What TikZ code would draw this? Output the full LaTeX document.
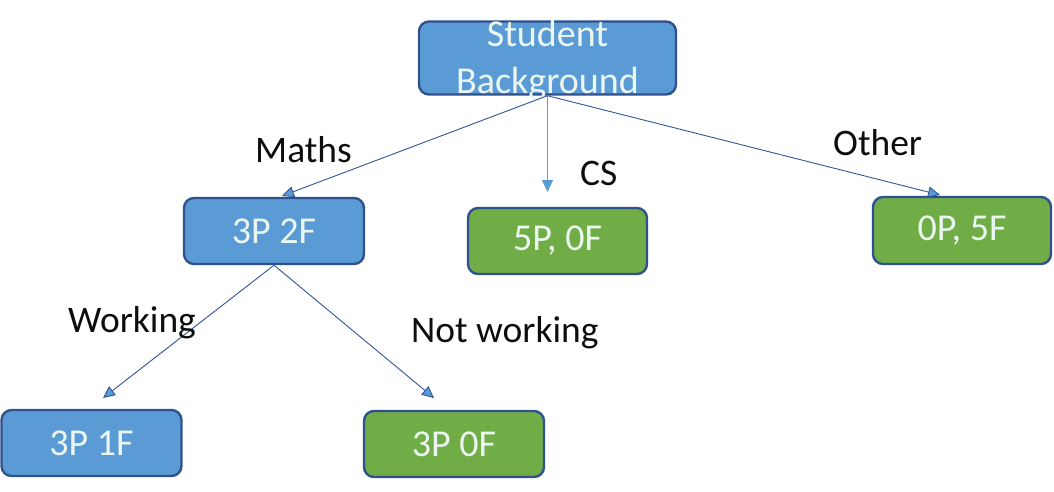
\documentclass[tikz,border=0pt]{standalone}
\usepackage{fontspec}
\setmainfont{Carlito}
\usetikzlibrary{arrows.meta}
\definecolor{boxblue}{HTML}{5B9BD5}
\definecolor{boxgreen}{HTML}{70AD47}
\definecolor{boxedge}{HTML}{2F528F}
\definecolor{boxtextc}{RGB}{236,246,240}
\definecolor{linkdark}{HTML}{2F5597}
\definecolor{labelc}{HTML}{0D0D0D}
\begin{document}
\begin{tikzpicture}[x=1pt,y=-1pt,
  box/.style={draw=boxedge, line width=2.4pt, rounded corners=10pt, inner sep=0pt,
    text=boxtextc, font=\fontsize{38}{42}\selectfont},
  bluebox/.style={box, fill=boxblue},
  greenbox/.style={box, fill=boxgreen},
  boxtext/.style={text=boxtextc, font=\fontsize{38}{42}\selectfont, inner sep=0pt},
  lbl/.style={text=labelc, font=\fontsize{37.5}{42}\selectfont, inner sep=0pt, anchor=base west},
  link/.style={draw=linkdark, line width=0.9pt, -{Triangle[length=12pt,width=11pt,fill=boxblue]}},
  linklight/.style={link, draw=boxblue}
]
\useasboundingbox (0,0) rectangle (1054,491);
% root box
\node[bluebox, minimum width=257pt, minimum height=73pt] (sb) at (547.5,58) {};
\node[boxtext, anchor=base] (sbt1) at (547.5,46) {Student};
\node[boxtext, anchor=base] (sbt2) at (547.5,93) {Background};
% children
\node[bluebox, minimum width=180pt, minimum height=66pt] (n1) at (274,231) {3P 2F};
\node[greenbox, minimum width=179pt, minimum height=66pt] (n2) at (557.5,241) {5P, 0F};
\node[greenbox, minimum width=178pt, minimum height=67pt] (n3) at (962,230.5) {0P, 5F};
\node[bluebox, minimum width=180pt, minimum height=66pt] (n4) at (91.5,443) {3P 1F};
\node[greenbox, minimum width=180pt, minimum height=66pt] (n5) at (454,444) {3P 0F};
% arrow tips
\coordinate (t1) at (282,196);
\coordinate (t2) at (547.5,192);
\coordinate (t3) at (940,195);
\coordinate (t4) at (103,398);
\coordinate (t5) at (434,398);
\draw[link] (sb.south) -- (t1);
\draw[linklight] (sb.south) -- (t2);
\draw[link] (sb.south) -- (t3);
\draw[link] (n1.south) -- (t4);
\draw[link] (n1.south) -- (t5);
% labels
\node[lbl] (lm) at (255,162) {Maths};
\node[lbl] (lc) at (580,185) {CS};
\node[lbl] (lo) at (833,155) {Other};
\node[lbl] (lw) at (68,332) {Working};
\node[lbl] (ln) at (411,342) {Not working};
\end{tikzpicture}
\end{document}
